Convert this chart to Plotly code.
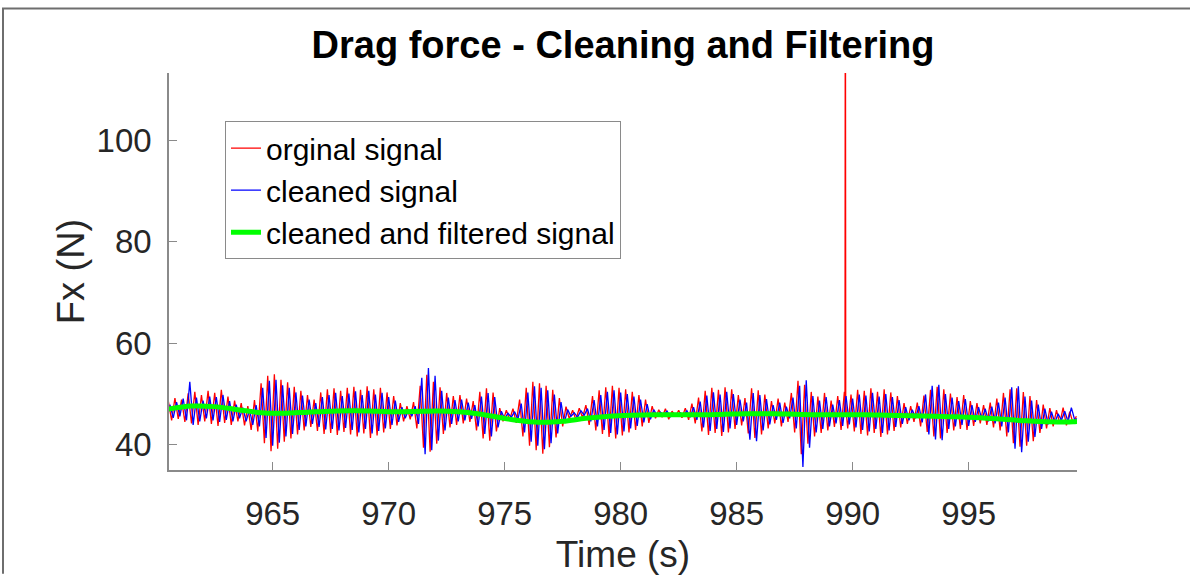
import plotly.graph_objects as go

# Sampling of the force signals (7 samples per second)
t_start = 960.5
samples_per_s = 7
cleaned_shift = 0.07  # cleaned signal sampled half a step later

# Original drag force (N)
original_fx = [
    48.6, 44.8, 49.2, 45.1, 48.9, 44.5, 50.1,
    44.2, 50.4, 43.9, 49.8, 44.6, 50.6, 44.1,
    50.2, 43.7, 50.8, 44.3, 49.5, 43.9, 48.7,
    44.6, 48.2, 43.8, 47.6, 42.9, 48.8, 42.6,
    52.1, 40.3, 53.6, 38.7, 53.9, 39.2, 52.8,
    40.6, 52.3, 41.2, 51.4, 42.0, 50.6, 42.8,
    49.8, 43.5, 48.9, 42.7, 50.3, 42.1, 50.9,
    42.3, 51.1, 41.9, 50.6, 42.5, 51.2, 42.0,
    51.4, 41.6, 50.8, 42.2, 51.5, 41.3, 50.9,
    41.8, 51.2, 42.4, 50.3, 43.1, 49.6, 43.8,
    48.2, 44.6, 47.6, 45.0, 48.4, 43.2, 51.6,
    39.4, 53.8, 38.6, 52.4, 40.2, 51.3, 42.1,
    50.2, 43.4, 49.6, 43.9, 49.8, 44.2, 49.1,
    44.5, 48.6, 42.8, 50.4, 41.2, 51.1, 40.8,
    50.3, 42.6, 47.2, 44.6, 46.8, 44.9, 47.1,
    44.3, 48.9, 41.6, 51.2, 39.8, 52.4, 38.9,
    52.1, 38.2, 51.6, 39.5, 50.8, 41.4, 49.2,
    43.6, 47.5, 45.1, 46.8, 44.9, 47.2, 45.3,
    47.8, 43.9, 49.6, 42.8, 50.7, 42.1, 51.3,
    41.5, 51.6, 41.2, 51.2, 41.8, 50.9, 42.4,
    50.4, 42.9, 49.8, 43.6, 48.9, 44.3, 47.6,
    45.2, 46.9, 45.4, 47.1, 45.0, 46.6, 45.5,
    46.8, 45.3, 47.2, 44.9, 48.1, 44.2, 49.3,
    42.6, 50.6, 41.9, 51.2, 42.3, 50.8, 41.7,
    51.3, 42.4, 50.9, 43.1, 49.8, 43.8, 49.2,
    42.2, 51.1, 41.3, 50.7, 42.0, 49.9, 43.2,
    48.6, 44.2, 49.1, 43.6, 48.3, 44.5, 50.2,
    42.4, 52.6, 38.1, 51.8, 40.2, 50.4, 41.6,
    49.5, 42.3, 50.2, 42.8, 48.7, 43.5, 49.6,
    42.9, 50.4, 43.2, 49.9, 42.6, 50.8, 42.1,
    50.6, 41.8, 51.1, 42.3, 50.4, 41.5, 50.9,
    42.0, 50.3, 42.7, 49.6, 43.4, 48.2, 44.1,
    47.6, 44.5, 48.3, 43.6, 49.7, 42.5, 50.8,
    41.6, 51.4, 41.2, 50.9, 42.3, 50.1, 42.8,
    49.4, 43.1, 49.8, 42.9, 48.6, 43.7, 48.2,
    44.2, 47.8, 43.9, 48.3, 43.4, 49.1, 42.8,
    50.2, 41.6, 50.9, 40.3, 51.1, 39.6, 50.4,
    39.8, 49.6, 40.7, 48.8, 42.3, 47.9, 43.2,
    47.2, 43.6, 46.8, 44.1, 47.3, 43.8, 46.5,
    44.2, 45.6,
]

# Sensor glitch in the original record
spike_time = [989.675, 989.685, 989.695]
spike_fx = [46.0, 113.3, 46.0]

# Drag force after removing outliers (N)
cleaned_fx = [
    47.9, 45.3, 48.4, 45.6, 49.1, 44.8, 52.4,
    43.9, 49.3, 44.6, 48.7, 45.2, 49.5, 44.8,
    49.4, 44.5, 49.8, 44.9, 48.6, 44.6, 47.9,
    45.2, 47.3, 44.6, 46.9, 43.9, 47.8, 43.6,
    51.2, 41.3, 52.6, 39.8, 52.8, 40.4, 51.7,
    41.6, 51.2, 42.1, 50.3, 42.9, 49.7, 43.6,
    48.9, 44.1, 48.2, 43.5, 49.4, 43.0, 49.8,
    43.1, 50.2, 42.8, 49.6, 43.3, 50.1, 42.9,
    50.5, 42.4, 49.8, 43.1, 50.6, 42.2, 49.9,
    42.7, 50.2, 43.2, 49.4, 43.9, 48.7, 44.5,
    47.4, 45.2, 46.9, 45.6, 47.6, 44.1, 53.2,
    38.1, 55.1, 38.9, 53.6, 40.8, 50.6, 42.8,
    49.3, 44.1, 48.8, 44.6, 48.9, 44.8, 48.3,
    45.1, 47.8, 43.6, 49.5, 42.1, 50.2, 41.6,
    49.4, 43.4, 46.6, 45.1, 46.2, 45.4, 46.5,
    45.0, 48.1, 42.4, 50.3, 40.6, 51.5, 39.8,
    51.2, 39.1, 50.7, 40.3, 49.9, 42.2, 48.4,
    44.3, 46.9, 45.6, 46.3, 45.4, 46.7, 45.8,
    47.1, 44.6, 48.8, 43.6, 49.8, 42.9, 50.4,
    42.3, 50.7, 42.0, 50.3, 42.6, 50.0, 43.2,
    49.5, 43.7, 48.9, 44.4, 48.0, 45.0, 46.9,
    45.7, 46.4, 45.9, 46.6, 45.5, 46.2, 45.9,
    46.3, 45.8, 46.7, 45.4, 47.4, 44.9, 48.5,
    43.4, 49.7, 42.7, 50.3, 43.1, 49.9, 42.5,
    50.4, 43.2, 50.0, 43.9, 48.9, 44.6, 48.3,
    41.0, 50.2, 40.7, 49.8, 42.8, 49.0, 44.0,
    47.8, 44.9, 48.3, 44.3, 47.5, 45.2, 49.3,
    43.2, 51.6, 35.6, 52.7, 39.4, 49.6, 42.4,
    48.7, 43.1, 49.4, 43.6, 47.9, 44.2, 48.8,
    43.7, 49.6, 44.0, 49.1, 43.4, 49.9, 42.9,
    49.7, 42.6, 50.2, 43.1, 49.5, 42.3, 50.0,
    42.8, 49.4, 43.5, 48.8, 44.1, 47.4, 44.8,
    46.9, 45.2, 47.6, 44.4, 49.9, 42.0, 51.6,
    41.0, 51.8, 40.9, 50.0, 43.1, 49.3, 43.6,
    48.6, 43.9, 49.0, 43.7, 47.8, 44.5, 47.4,
    44.9, 47.1, 44.6, 47.5, 44.2, 48.3, 43.6,
    49.3, 42.4, 51.3, 39.2, 51.5, 38.5, 49.5,
    40.6, 48.7, 41.5, 47.9, 43.1, 47.1, 44.0,
    46.5, 44.3, 46.1, 44.8, 46.6, 44.5, 47.3,
    44.9, 45.2,
]

# Low-pass filtered cleaned signal (N)
filtered_time = [960.5, 961.5, 962.5, 963.5, 964.5, 965.5, 966.5, 967.5, 968.5,
                 969.5, 970.5, 971.5, 972.5, 973.5, 974.5, 975.5, 976.5, 977.5,
                 978.5, 979.5, 980.5, 981.5, 982.5, 983.5, 984.5, 985.5, 986.5,
                 987.5, 988.5, 989.5, 990.5, 991.5, 992.5, 993.5, 994.5, 995.5,
                 996.5, 997.5, 998.5, 999.5, 999.7]
filtered_fx = [47.0, 47.6, 47.5, 46.9, 46.3, 46.2, 46.4, 46.6, 46.7,
               46.6, 46.5, 46.6, 46.6, 46.3, 45.6, 44.8, 44.4, 44.6,
               45.2, 45.6, 45.8, 45.9, 45.9, 45.9, 46.0, 46.1, 46.1,
               46.0, 45.9, 45.9, 45.9, 45.8, 45.7, 45.6, 45.5, 45.3,
               45.0, 44.7, 44.5, 44.5, 44.6]

x_ticks = [965, 970, 975, 980, 985, 990, 995]
y_ticks = [40, 60, 80, 100]

original_time = [t_start + i / samples_per_s for i in range(len(original_fx))]
cleaned_time = [t_start + cleaned_shift + i / samples_per_s for i in range(len(cleaned_fx))]

FONT = "Liberation Sans, Arial, sans-serif"
AXIS_GRAY = "#8a8a8a"
TEXT_GRAY = "#262626"

fig = go.Figure()
fig.add_trace(go.Scatter(x=original_time, y=original_fx, mode="lines",
                         name="orginal signal",
                         line=dict(color="#ff0000", width=1.3)))
fig.add_trace(go.Scatter(x=spike_time, y=spike_fx, mode="lines",
                         name="orginal signal", showlegend=False,
                         line=dict(color="#ff0000", width=1.6)))
fig.add_trace(go.Scatter(x=cleaned_time, y=cleaned_fx, mode="lines",
                         name="cleaned signal",
                         line=dict(color="#0000ff", width=1.3)))
fig.add_trace(go.Scatter(x=filtered_time, y=filtered_fx, mode="lines",
                         name="cleaned and filtered signal",
                         line=dict(color="#00ff00", width=5, shape="spline", smoothing=1.0)))

fig.update_layout(
    width=1190, height=580,
    margin=dict(l=169, r=113, t=73, b=105),
    plot_bgcolor="white", paper_bgcolor="white",
    font=dict(family=FONT, color=TEXT_GRAY),
    title=dict(text="<b>Drag force - Cleaning and Filtering</b>",
               x=0.5, xref="paper", xanchor="center",
               y=1 - 45 / 580, yref="container", yanchor="middle",
               font=dict(family=FONT, size=38, color="#000000")),
    legend=dict(x=(225 - 169) / 908, y=(475 - 122) / 401.7,
                xanchor="left", yanchor="top",
                bgcolor="white", bordercolor="#8a8a8a", borderwidth=1,
                font=dict(family=FONT, size=30, color="#000000"),
                tracegroupgap=0),
    showlegend=True,
)

fig.update_xaxes(
    range=[960.53, 999.67], tickvals=x_ticks, ticktext=[str(v) for v in x_ticks],
    ticks="inside", ticklen=8, tickwidth=1.2, tickcolor=AXIS_GRAY,
    showline=True, linecolor=AXIS_GRAY, linewidth=1.5, mirror=False,
    showgrid=False, zeroline=False,
    tickfont=dict(family=FONT, size=33, color=TEXT_GRAY),
    ticklabelstandoff=14,
    title=dict(text="Time (s)", font=dict(family=FONT, size=37, color=TEXT_GRAY), standoff=10),
)
fig.update_yaxes(
    range=[35.0, 113.3], tickvals=y_ticks, ticktext=[str(v) for v in y_ticks],
    ticks="inside", ticklen=8, tickwidth=1.2, tickcolor=AXIS_GRAY,
    showline=True, linecolor=AXIS_GRAY, linewidth=1.5, mirror=False,
    showgrid=False, zeroline=False,
    tickfont=dict(family=FONT, size=33, color=TEXT_GRAY),
    ticklabelstandoff=9,
    title=dict(text="Fx (N)", font=dict(family=FONT, size=38, color=TEXT_GRAY), standoff=0),
)

# Figure frame along the top and left edges
fig.add_shape(type="path", xref="paper", yref="paper",
              path="M {l},{b} L {l},{t} L {r},{t}".format(
                  l=(3 - 169) / 908, b=(475 - 580) / 401.7,
                  t=(475 - 8) / 401.7, r=(1190 - 169) / 908),
              line=dict(color="#6e6e6e", width=2))

fig.write_html("out.html")
